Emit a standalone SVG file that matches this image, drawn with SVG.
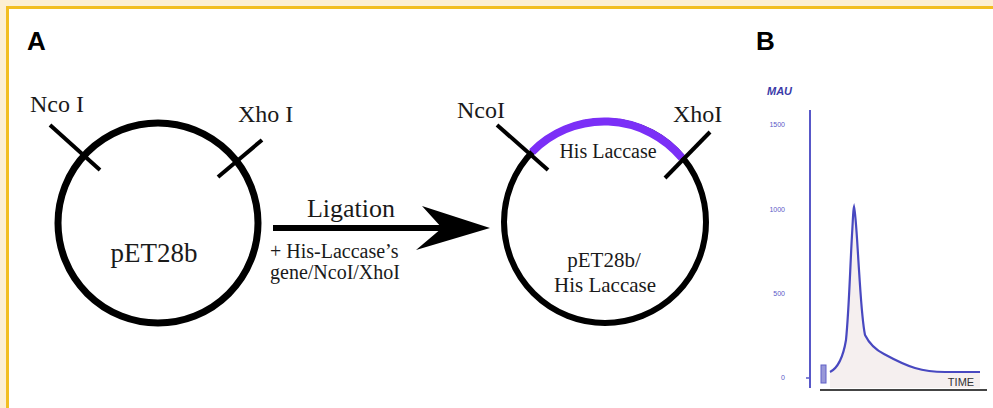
<svg xmlns="http://www.w3.org/2000/svg" width="993" height="408" viewBox="0 0 993 408">
<style>
.serif{font-family:"Liberation Serif","Times New Roman",serif;fill:#1a1a1a}
.lbl{font-family:"Liberation Sans",Arial,sans-serif;font-weight:bold;fill:#000}
.ring{fill:none;stroke:#000}
.tick{stroke:#000;stroke-width:4;stroke-linecap:butt}
.ax{font-family:"Liberation Sans",Arial,sans-serif;font-size:7px;fill:#5a5ac8}
</style>
<rect x="0" y="0" width="993" height="408" fill="#fcefd4"/>
<rect x="6" y="6" width="987" height="402" fill="#f2be22"/>
<rect x="9" y="9" width="984" height="399" fill="#ffffff"/>
<text class="lbl" x="27" y="50" font-size="26">A</text>
<text class="lbl" x="756" y="50" font-size="26">B</text>
<g id="pet28b">
<circle class="ring" cx="158" cy="223" r="100" stroke-width="7"/>
<line class="tick" x1="50" y1="125" x2="100" y2="170"/>
<line class="tick" x1="262" y1="140" x2="218" y2="177"/>
<text class="serif" x="30" y="112" font-size="24">Nco I</text>
<text class="serif" x="238" y="122" font-size="24">Xho I</text>
<text class="serif" x="154" y="262" font-size="27" text-anchor="middle">pET28b</text>
</g>
<g id="pet28b-laccase">
<circle class="ring" cx="605" cy="222" r="101" stroke-width="6"/>
<path d="M532,152 A101,101 0 0,1 682,158" fill="none" stroke="#7b2ff7" stroke-width="8"/>
<line class="tick" x1="497" y1="125" x2="548" y2="170"/>
<line class="tick" x1="710" y1="132" x2="665" y2="178"/>
<text class="serif" x="457" y="118" font-size="24">NcoI</text>
<text class="serif" x="673" y="122" font-size="24">XhoI</text>
<text class="serif" x="608" y="158" font-size="20" text-anchor="middle">His Laccase</text>
<text class="serif" x="604" y="267" font-size="21" text-anchor="middle">pET28b/</text>
<text class="serif" x="605" y="292" font-size="21" text-anchor="middle">His Laccase</text>
</g>
<g id="connectors">
<rect x="273" y="225" width="170" height="6" fill="#000"/>
<polygon points="490,228 422,206 442,228 416,250" fill="#000"/>
<text class="serif" x="351" y="217" font-size="26" text-anchor="middle">Ligation</text>
<text class="serif" x="270" y="258" font-size="20">+ His-Laccase’s</text>
<text class="serif" x="270" y="279" font-size="20">gene/NcoI/XhoI</text>
</g>
<g id="chart">
<text x="767" y="95" font-family="Liberation Sans,Arial,sans-serif" font-size="11" font-weight="bold" font-style="italic" fill="#3a3aa8">MAU</text>
<line x1="810" y1="110" x2="810" y2="388" stroke="#5858c8" stroke-width="2"/>
<text class="ax" x="785" y="127" text-anchor="end">1500</text>
<text class="ax" x="785" y="212" text-anchor="end">1000</text>
<text class="ax" x="785" y="296" text-anchor="end">500</text>
<text class="ax" x="785" y="380" text-anchor="end">0</text>
<line x1="806" y1="378" x2="810" y2="378" stroke="#5858c8" stroke-width="1.5"/>
<path d="M830,372 C838,368 843,358 846,340 C849,310 850,270 852,235 C853,220 853,210 854,207 C856,215 857,240 859,270 C861,300 862,320 865,335 C870,345 876,350 884,354 C895,360 905,365 915,368 C925,371 933,372 945,372 L980,372 L980,388 L830,388 Z" fill="#f5efef"/>
<path d="M830,372 C838,368 843,358 846,340 C849,310 850,270 852,235 C853,220 853,210 854,207 C856,215 857,240 859,270 C861,300 862,320 865,335 C870,345 876,350 884,354 C895,360 905,365 915,368 C925,371 933,372 945,372 L980,372" fill="none" stroke="#4848c0" stroke-width="2.2"/>
<rect x="821" y="365" width="5" height="18" fill="#9898d8" stroke="#6060c8" stroke-width="1"/>
<line x1="820" y1="390" x2="987" y2="390" stroke="#444" stroke-width="2"/>
<text x="961" y="386" font-family="Liberation Sans,Arial,sans-serif" font-size="11" fill="#333" text-anchor="middle">TIME</text>
</g>
</svg>
